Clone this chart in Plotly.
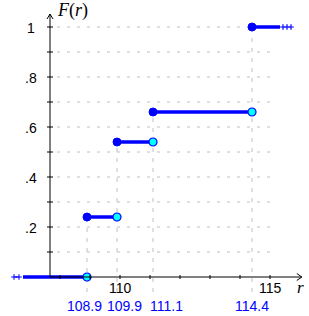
import plotly.graph_objects as go

# ---- data ----
jumps = [108.9, 109.9, 111.1, 114.4]          # jump points of F(r)
levels = [0.0, 0.24, 0.54, 0.66, 1.0]          # F values between jumps
x_ticks = [108, 109, 110, 111, 112, 113, 114, 115]
x_tick_labels = {110: "110", 115: "115"}
y_ticks = [0.1, 0.2, 0.3, 0.4, 0.5, 0.6, 0.7, 0.8, 0.9, 1.0]
y_tick_labels = {0.2: ".2", 0.4: ".4", 0.6: ".6", 0.8: ".8", 1.0: "1"}
jump_labels = ["108.9", "109.9", "111.1", "114.4"]
label_shift_px = [-3, 7, 13, 0]

# ---- geometry (data units) ----
X0 = 107.667        # where the y axis crosses
XMIN, XMAX = 106.0, 116.3
YMIN, YMAX = -0.156, 1.108
PX = 1 / 30.0       # one pixel in x units
PY = 1 / 250.0      # one pixel in y units
left_start = 106.767
right_end = 115.333

BLUE = "#0000FF"
CYAN = "#00FFFF"
GRID = "#c0c0c0"

fig = go.Figure()
shapes = []

# horizontal dashed gridlines
for yv in y_ticks:
    shapes.append(dict(type="line", xref="x", yref="y", x0=X0 + 7 * PX, x1=115, y0=yv, y1=yv,
                       line=dict(color=GRID, width=1, dash="3px,7px"), layer="below"))
# vertical dashed lines at jumps
for j, top in zip(jumps, levels[1:]):
    shapes.append(dict(type="line", xref="x", yref="y", x0=j, x1=j, y0=-15 * PY, y1=top,
                       line=dict(color=GRID, width=1, dash="4px,6px"), layer="below"))

# axes
shapes.append(dict(type="line", xref="x", yref="y", x0=X0, x1=116.06, y0=0, y1=0,
                   line=dict(color="black", width=1)))
shapes.append(dict(type="line", xref="x", yref="y", x0=X0, x1=X0, y0=0, y1=1.052,
                   line=dict(color="black", width=1)))
# arrow heads
shapes.append(dict(type="path", xref="x", yref="y",
                   path=f"M {116.06-5*PX} {3.5*PY} L 116.06 0 L {116.06-5*PX} {-3.5*PY}",
                   line=dict(color="black", width=1)))
shapes.append(dict(type="path", xref="x", yref="y",
                   path=f"M {X0-3*PX} {1.052-5*PY} L {X0} 1.052 L {X0+3*PX} {1.052-5*PY}",
                   line=dict(color="black", width=1)))
# ticks
for xt in x_ticks:
    shapes.append(dict(type="line", xref="x", yref="y", x0=xt, x1=xt, y0=-2 * PY, y1=2 * PY,
                       line=dict(color="black", width=1)))
for yt in y_ticks:
    shapes.append(dict(type="line", xref="x", yref="y", x0=X0 - 3 * PX, x1=X0 + 3 * PX, y0=yt, y1=yt,
                       line=dict(color="black", width=1)))

fig.update_layout(shapes=shapes)

# step segments
starts = [left_start] + jumps
ends = jumps + [right_end]
for s, e, lv in zip(starts, ends, levels):
    fig.add_trace(go.Scatter(x=[s, e], y=[lv, lv], mode="lines",
                             line=dict(color=BLUE, width=3.5), hoverinfo="skip"))

# continuation crosses
fig.add_trace(go.Scatter(x=[106.467, 106.633], y=[0, 0], mode="lines+markers",
                         line=dict(color=BLUE, width=1),
                         marker=dict(symbol="cross-thin", size=4, line=dict(color=BLUE, width=1)),
                         hoverinfo="skip"))
fig.add_trace(go.Scatter(x=[115.433, 115.567, 115.7], y=[1, 1, 1], mode="markers",
                         marker=dict(symbol="cross-thin", size=4, line=dict(color=BLUE, width=1.2)),
                         hoverinfo="skip"))

# open (cyan) circles at right ends, filled at left ends
fig.add_trace(go.Scatter(x=jumps, y=levels[:-1], mode="markers",
                         marker=dict(size=8, color=CYAN, line=dict(color=BLUE, width=1.2)),
                         hoverinfo="skip"))
fig.add_trace(go.Scatter(x=jumps, y=levels[1:], mode="markers",
                         marker=dict(size=8, color=BLUE, line=dict(color=BLUE, width=1)),
                         hoverinfo="skip"))

ann = []
for yt, lab in y_tick_labels.items():
    ann.append(dict(x=107.033, y=yt, text=lab, showarrow=False, xanchor="center", yanchor="middle",
                    yshift=-1, font=dict(family="Liberation Sans", size=14, color="black")))
for xt, lab in x_tick_labels.items():
    ann.append(dict(x=xt, y=-11 * PY, text=lab, showarrow=False, xanchor="center", yanchor="middle",
                    font=dict(family="Liberation Sans", size=14, color="black")))
for j, lab, sh in zip(jumps, jump_labels, label_shift_px):
    ann.append(dict(x=j, y=-29 * PY, text=lab, showarrow=False, xanchor="center", yanchor="middle",
                    xshift=sh, font=dict(family="Liberation Sans", size=14, color=BLUE)))
ann.append(dict(x=X0 + 22 * PX, y=1.066, text="<i>F</i>(<i>r</i>)", showarrow=False,
                xanchor="center", yanchor="middle",
                font=dict(family="Liberation Serif", size=18, color="black")))
ann.append(dict(x=116.03, y=-10 * PY, text="<i>r</i>", showarrow=False,
                xanchor="center", yanchor="middle",
                font=dict(family="Liberation Serif", size=17, color="black")))

fig.update_layout(
    width=309, height=316,
    margin=dict(l=0, r=0, t=0, b=0),
    paper_bgcolor="white", plot_bgcolor="white",
    showlegend=False,
    xaxis=dict(range=[XMIN, XMAX], visible=False, fixedrange=True),
    yaxis=dict(range=[YMIN, YMAX], visible=False, fixedrange=True),
    annotations=ann,
)

fig.write_html("out.html", config={"displayModeBar": False})
